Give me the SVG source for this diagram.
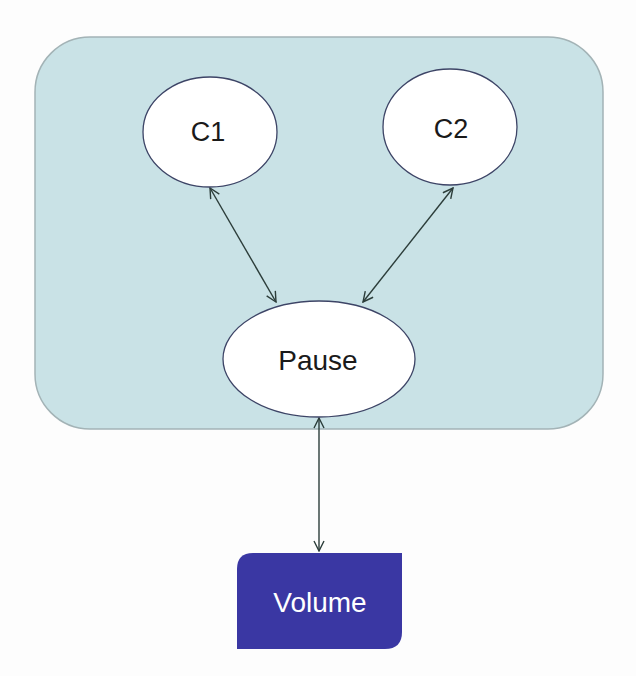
<svg xmlns="http://www.w3.org/2000/svg" width="636" height="676" viewBox="0 0 636 676">
  <style>
    .lbl { font-family: "Liberation Sans", Arial, sans-serif; text-anchor: middle; dominant-baseline: central; }
    .ell { fill: #ffffff; stroke: #3d4466; stroke-width: 1.3; }
    .conn { stroke: #2c3d3a; stroke-width: 1.4; fill: none; marker-start: url(#head); marker-end: url(#head); }
  </style>
  <defs>
    <marker id="head" viewBox="0 0 12 12" refX="11" refY="6" markerWidth="12" markerHeight="12" markerUnits="userSpaceOnUse" orient="auto-start-reverse">
      <path d="M1,1 L11,6 L1,11" fill="none" stroke="#2c3d3a" stroke-width="1.4"/>
    </marker>
  </defs>
  <rect width="636" height="676" fill="#fdfdfd"/>

  <g id="pod">
    <rect x="35" y="37" width="568" height="392" rx="55" ry="55" fill="#c9e2e6" stroke="#a3b3b6" stroke-width="1.5"/>
  </g>

  <g id="connectors">
    <line class="conn" x1="210" y1="188" x2="276" y2="302"/>
    <line class="conn" x1="453" y1="188" x2="363" y2="302"/>
    <line class="conn" x1="319" y1="418" x2="319" y2="551"/>
  </g>

  <g id="c1">
    <ellipse class="ell" cx="210" cy="132" rx="67" ry="55"/>
    <text class="lbl" x="208" y="132" font-size="27" fill="#1a1a1a">C1</text>
  </g>

  <g id="c2">
    <ellipse class="ell" cx="450" cy="127" rx="67" ry="58"/>
    <text class="lbl" x="451" y="129" font-size="27" fill="#1a1a1a">C2</text>
  </g>

  <g id="pause">
    <ellipse class="ell" cx="319" cy="359" rx="96" ry="58"/>
    <text class="lbl" x="318" y="360" font-size="28" fill="#1a1a1a">Pause</text>
  </g>

  <g id="volume">
    <path d="M253,553 L402,553 L402,632 Q402,649 385,649 L237,649 L237,569 Q237,553 253,553 Z" fill="#3a37a3"/>
    <text class="lbl" x="320" y="602" font-size="28" fill="#ffffff">Volume</text>
  </g>
</svg>
